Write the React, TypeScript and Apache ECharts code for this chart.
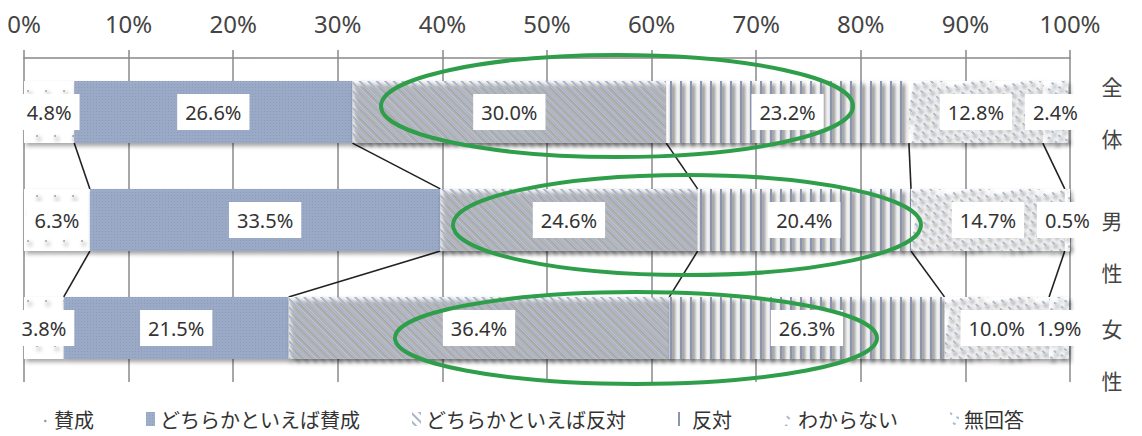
import React, { useEffect, useRef } from "react";
import * as echarts from "echarts";

const categories = ["全体", "男性", "女性"];
const seriesNames = ["賛成", "どちらかといえば賛成", "どちらかといえば反対", "反対", "わからない", "無回答"];
const agree = [4.8, 6.3, 3.8];
const ratherAgree = [26.6, 33.5, 21.5];
const ratherDisagree = [30.0, 24.6, 36.4];
const disagree = [23.2, 20.4, 26.3];
const dontKnow = [12.8, 14.7, 10.0];
const noAnswer = [2.4, 0.5, 1.9];

const allValues = [agree, ratherAgree, ratherDisagree, disagree, dontKnow, noAnswer];

const baseColors = ["#ffffff", "#9dadca", "#ffffff", "#ffffff", "#ffffff", "#ffffff"];
const decals: any[] = [
  { symbol: "circle", symbolSize: 1, color: "#a8a8a8", dashArrayX: [[2, 16], [0, 9, 2, 7]], dashArrayY: [2, 13] },
  { symbol: "rect", symbolSize: 1, color: "rgba(70,85,125,0.18)", dashArrayX: [1, 2], dashArrayY: [1, 2] },
  { symbol: "rect", symbolSize: 1, color: "#a9b4ca", dashArrayX: [1, 0], dashArrayY: [1.3, 3.4], rotation: Math.PI / 4 },
  { symbol: "rect", symbolSize: 1, color: "#8a96b0", dashArrayX: [2, 8], dashArrayY: [4, 0] },
  { symbol: "rect", symbolSize: 1, color: "#b0b8ca", dashArrayX: [[4, 6], [0, 5, 4, 1]], dashArrayY: [1.5, 5], rotation: Math.PI / 4 },
  { symbol: "rect", symbolSize: 1, color: "#a6bcd8", dashArrayX: [3, 5], dashArrayY: [1.5, 5], rotation: Math.PI / 6 },
];

// extra blank lines above each vertical category label
const yLabelLead = [0, 2, 2];

export default function App() {
  const ref = useRef<HTMLDivElement>(null);
  useEffect(() => {
    if (!ref.current) return;
    const chart = echarts.init(ref.current, null, { renderer: "svg" });

    const cum = categories.map((_, r) => {
      let s = 0;
      return allValues.map((arr) => (s += arr[r]));
    });
    const connectors: number[][] = [];
    for (let r = 0; r < categories.length - 1; r++) {
      for (let k = 0; k < allValues.length - 1; k++) {
        connectors.push([cum[r][k], r, cum[r + 1][k], r + 1]);
      }
    }

    const barSeries = seriesNames.map((name, i) => ({
      name,
      type: "bar",
      stack: "total",
      barWidth: "57.6%",
      data: allValues[i],
      itemStyle: {
        color: baseColors[i],
        decal: decals[i],
        shadowColor: "rgba(0,0,0,0.35)",
        shadowBlur: 4,
        shadowOffsetX: 2,
        shadowOffsetY: 3,
      },
      label: {
        show: true,
        position: "inside",
        formatter: (p: any) => p.value.toFixed(1) + "%",
        fontFamily: "Noto Sans",
        fontSize: 20,
        color: "#333",
        backgroundColor: "#ffffff",
        padding: [8, 8],
      },
      emphasis: { disabled: true },
    }));

    const legendData = seriesNames.map((name, i) =>
      i === 0
        ? {
            name,
            icon: "path://M0,0M4,9a1.3,1.3 0 1,0 2.6,0a1.3,1.3 0 1,0 -2.6,0M9,14",
            itemStyle: { color: "#999", decal: "none", shadowBlur: 0, shadowOffsetX: 0, shadowOffsetY: 0 },
          }
        : { name, itemStyle: { shadowBlur: 0, shadowOffsetX: 0, shadowOffsetY: 0 } }
    );

    const option: any = {
      animation: false,
      grid: { left: 24, right: 72, top: 58, bottom: 54, containLabel: false },
      xAxis: {
        type: "value",
        position: "top",
        min: 0,
        max: 100,
        interval: 10,
        axisLine: { show: true, lineStyle: { color: "#888", width: 1.5 } },
        axisTick: { show: true, length: 8, lineStyle: { color: "#888", width: 1.5 } },
        splitLine: { show: true, lineStyle: { color: "#8a8a8a", width: 1.5 } },
        axisLabel: {
          formatter: "{value}%",
          fontFamily: "Noto Sans",
          fontSize: 24,
          color: "#444",
          margin: 23,
        },
      },
      yAxis: {
        type: "category",
        inverse: true,
        position: "right",
        data: categories,
        axisLine: { show: false },
        axisTick: { show: false },
        splitLine: { show: false },
        axisLabel: {
          interval: 0,
          formatter: (v: string, idx: number) =>
            "\n".repeat(yLabelLead[idx] || 0) + v.split("").join("\n\n"),
          fontFamily: "Noto Sans CJK JP",
          fontSize: 21,
          lineHeight: 26,
          color: "#444",
          margin: 42,
          align: "center",
        },
      },
      legend: {
        data: legendData,
        left: 35,
        top: 404,
        itemWidth: 9,
        itemHeight: 14,
        itemGap: 52,
        icon: "rect",
        textStyle: { fontFamily: "Noto Sans CJK JP", fontSize: 20, color: "#333" },
      },
      series: [
        ...barSeries,
        {
          type: "custom",
          name: "connectors",
          silent: true,
          z: 1,
          encode: { x: [0, 2], y: [1, 3] },
          data: connectors,
          renderItem: (params: any, api: any) => {
            const p1 = api.coord([api.value(0), api.value(1)]);
            const p2 = api.coord([api.value(2), api.value(3)]);
            const band = api.size([0, 1])[1];
            const h = (band * 0.576) / 2;
            return {
              type: "line",
              shape: { x1: p1[0], y1: p1[1] + h, x2: p2[0], y2: p2[1] - h },
              style: { stroke: "#222", lineWidth: 1.6 },
            };
          },
        },
      ],
      graphic: [
        { type: "ellipse", shape: { cx: 617, cy: 106, rx: 236, ry: 51 }, style: { fill: "none", stroke: "#2f9e4a", lineWidth: 4 }, z: 100 },
        { type: "ellipse", shape: { cx: 687, cy: 225, rx: 234, ry: 50 }, style: { fill: "none", stroke: "#2f9e4a", lineWidth: 4 }, z: 100 },
        { type: "ellipse", shape: { cx: 636, cy: 338, rx: 241, ry: 46 }, style: { fill: "none", stroke: "#2f9e4a", lineWidth: 4 }, z: 100 },
      ],
    };
    chart.setOption(option);
    return () => chart.dispose();
  }, []);
  return (
    <div
      ref={ref}
      style={{ position: "fixed", left: 0, top: 0, width: 1142, height: 436, background: "#fff" }}
    />
  );
}
